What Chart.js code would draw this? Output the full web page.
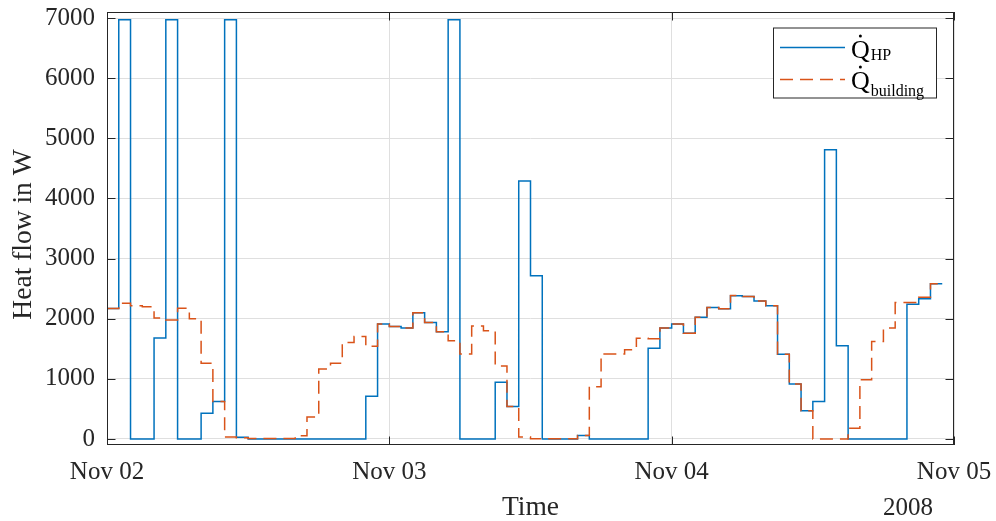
<!DOCTYPE html>
<html>
<head>
<meta charset="utf-8">
<script src="https://cdn.jsdelivr.net/npm/chart.js@4.4.1/dist/chart.umd.min.js"></script>
<style>
  html, body { margin: 0; padding: 0; background: #fff; }
  #wrap { width: 996px; height: 521px; position: relative; }
</style>
</head>
<body>
<div id="wrap"><canvas id="heatChart"></canvas></div>
<script>
// hourly samples, hour 0 = Nov 02 00:00
const hours = [
  0, 1, 2, 3, 4, 5, 6, 7, 8, 9, 10, 11, 12, 13, 14, 15, 16, 17, 18, 19, 20, 21, 22, 23,
  24, 25, 26, 27, 28, 29, 30, 31, 32, 33, 34, 35, 36, 37, 38, 39, 40, 41, 42, 43, 44, 45, 46, 47,
  48, 49, 50, 51, 52, 53, 54, 55, 56, 57, 58, 59, 60, 61, 62, 63, 64, 65, 66, 67, 68, 69, 70, 71,
];

const heatPumpW = [
  2170, 6970, 0, 0, 1680, 6970, 0, 0, 430, 625, 6970, 30, 0, 0, 0, 0, 0, 0, 0, 0, 0, 0, 710, 1910,
  1870, 1845, 2100, 1935, 1785, 6970, 0, 0, 0, 945, 540, 4290, 2715, 0, 0, 0, 60, 0, 0, 0, 0, 0, 1510, 1845,
  1910, 1760, 2025, 2185, 2165, 2380, 2370, 2295, 2215, 1410, 915, 470, 625, 4810, 1550, 0, 0, 0, 0, 0, 2240, 2330, 2580, 2580,
];

const buildingW = [
  2170, 2255, 2215, 2200, 2010, 1980, 2175, 2000, 1260, 625, 35, 20, 10, 10, 10, 10, 55, 365, 1165, 1260, 1605, 1705, 1540, 1910,
  1870, 1845, 2100, 1935, 1785, 1635, 1415, 1880, 1800, 1215, 540, 35, 5, 5, 5, 5, 60, 870, 1415, 1415, 1485, 1675, 1665, 1845,
  1910, 1760, 2025, 2185, 2165, 2385, 2370, 2295, 2215, 1410, 915, 470, 0, 0, 0, 180, 985, 1620, 1845, 2270, 2270, 2355, 2580, 2580,
];

const dayTicks = [0, 24, 48, 72];
const dayLabels = ["Nov 02", "Nov 03", "Nov 04", "Nov 05"];
const yTicks = [0, 1000, 2000, 3000, 4000, 5000, 6000, 7000];

const BLUE = "#0072BD";
const ORANGE = "#D95319";
const AXIS = "#262626";
const SERIF = "'Liberation Serif', 'DejaVu Serif', serif";
const DASH = [13, 7];

const toPoints = (values) => hours.map((h, i) => ({ x: h, y: values[i] }));

// box, inward ticks, axis titles and the legend
const framePlugin = {
  id: "frame",
  afterDraw(chart) {
    const { ctx, chartArea: a, scales } = chart;
    ctx.save();

    ctx.strokeStyle = AXIS;
    ctx.lineWidth = 1;
    ctx.beginPath();
    yTicks.forEach((v) => {
      const y = Math.round(scales.y.getPixelForValue(v)) + 0.5;
      ctx.moveTo(a.left, y);
      ctx.lineTo(a.left + 8.5, y);
      ctx.moveTo(a.right, y);
      ctx.lineTo(a.right - 8.5, y);
    });
    dayTicks.forEach((h) => {
      const x = Math.round(scales.x.getPixelForValue(h)) + 0.5;
      ctx.moveTo(x, a.bottom);
      ctx.lineTo(x, a.bottom - 8.5);
      ctx.moveTo(x, a.top);
      ctx.lineTo(x, a.top + 8.5);
    });
    ctx.stroke();
    ctx.strokeRect(a.left + 0.5, a.top + 0.5, a.width - 1, a.height - 1);

    // axis titles
    ctx.fillStyle = AXIS;
    ctx.font = `27.5px ${SERIF}`;
    ctx.textAlign = "center";
    ctx.textBaseline = "alphabetic";
    ctx.fillText("Time", (a.left + a.right) / 2, 515);
    ctx.font = `25px ${SERIF}`;
    ctx.fillText("2008", 908, 515);

    ctx.save();
    ctx.translate(31, (a.top + a.bottom) / 2 + 6);
    ctx.rotate(-Math.PI / 2);
    ctx.font = `27.5px ${SERIF}`;
    ctx.fillText("Heat flow in W", 0, 0);
    ctx.restore();

    // legend
    const box = { x: 773, y: 27.5, w: 164, h: 71 };
    ctx.fillStyle = "#fff";
    ctx.fillRect(box.x, box.y, box.w, box.h);
    ctx.strokeStyle = AXIS;
    ctx.strokeRect(box.x + 0.5, box.y + 0.5, box.w - 1, box.h - 1);

    const entries = [
      { color: BLUE, dash: [], lineY: 47.5, base: 58, sub: "HP", subDrop: 2 },
      { color: ORANGE, dash: DASH, lineY: 79.5, base: 89, sub: "building", subDrop: 7 },
    ];
    entries.forEach((e) => {
      ctx.strokeStyle = e.color;
      ctx.lineWidth = 1.5;
      ctx.setLineDash(e.dash);
      ctx.beginPath();
      ctx.moveTo(780, e.lineY);
      ctx.lineTo(845, e.lineY);
      ctx.stroke();
      ctx.setLineDash([]);

      ctx.fillStyle = "#000";
      ctx.textAlign = "left";
      ctx.font = `26px ${SERIF}`;
      ctx.fillText("Q", 851, e.base);
      const qw = ctx.measureText("Q").width;
      ctx.beginPath();
      ctx.arc(851 + qw / 2, e.base - 22, 1.5, 0, Math.PI * 2);
      ctx.fill();
      ctx.font = `16px ${SERIF}`;
      ctx.fillText(e.sub, 851 + qw + 1, e.base + e.subDrop);
    });

    ctx.restore();
  },
};

new Chart(document.getElementById("heatChart"), {
  type: "line",
  data: {
    datasets: [
      {
        label: "Q_HP",
        data: toPoints(heatPumpW),
        borderColor: BLUE,
        borderWidth: 1.5,
        stepped: true,
        pointRadius: 0,
        order: 2,
      },
      {
        label: "Q_building",
        data: toPoints(buildingW),
        borderColor: ORANGE,
        borderWidth: 1.5,
        borderDash: DASH,
        stepped: true,
        pointRadius: 0,
        order: 1,
      },
    ],
  },
  options: {
    responsive: true,
    maintainAspectRatio: false,
    animation: false,
    devicePixelRatio: 1,
    layout: { padding: { top: 12, right: 42, left: 0, bottom: 0 } },
    plugins: { legend: { display: false }, tooltip: { enabled: false } },
    scales: {
      x: {
        type: "linear",
        min: 0,
        max: 72,
        afterFit: (scale) => {
          scale.height = 76;
          scale.paddingLeft = 0;
          scale.paddingRight = 0;
        },
        afterBuildTicks: (scale) => { scale.ticks = dayTicks.map((v) => ({ value: v })); },
        grid: { color: "#dfdfdf", lineWidth: 1, drawTicks: false },
        border: { display: false },
        ticks: {
          padding: 12,
          maxRotation: 0,
          color: AXIS,
          font: { family: SERIF, size: 25 },
          callback: (v) => dayLabels[dayTicks.indexOf(v)],
        },
      },
      y: {
        min: -100,
        max: 7100,
        afterFit: (scale) => {
          scale.width = 107;
          scale.paddingTop = 0;
          scale.paddingBottom = 0;
        },
        afterBuildTicks: (scale) => { scale.ticks = yTicks.map((v) => ({ value: v })); },
        grid: { color: "#dfdfdf", lineWidth: 1, drawTicks: false },
        border: { display: false },
        ticks: {
          padding: 12,
          color: AXIS,
          font: { family: SERIF, size: 25 },
          callback: (v) => String(v),
        },
      },
    },
  },
  plugins: [framePlugin],
});
</script>
</body>
</html>
